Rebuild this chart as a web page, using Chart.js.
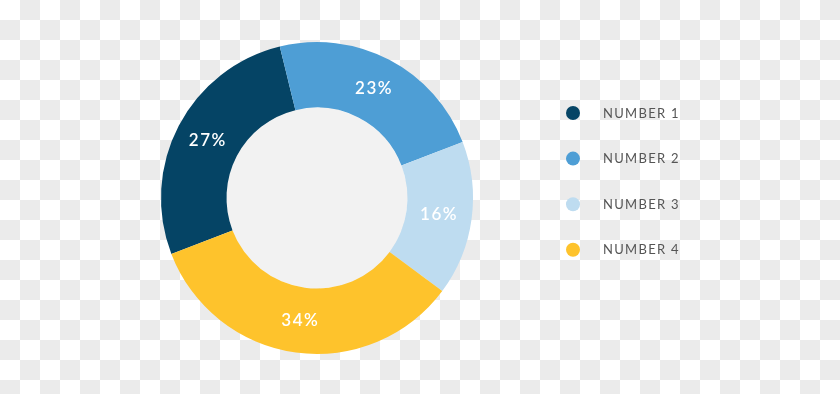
<!DOCTYPE html>
<html>
<head>
<meta charset="utf-8">
<script src="https://cdn.jsdelivr.net/npm/chart.js@4/dist/chart.umd.min.js"></script>
<style>
  html, body {
    margin: 0;
    padding: 0;
    width: 840px;
    height: 394px;
    overflow: hidden;
    background-color: #ffffff;
    background-image: conic-gradient(#ebebeb 25%, transparent 0 50%, #ebebeb 0 75%, transparent 0);
    background-size: 40px 40px;
  }
  #wrap { position: relative; width: 840px; height: 394px; }
</style>
</head>
<body>
<div id="wrap"><canvas id="chart"></canvas></div>
<script>
const labels = ["NUMBER 1", "NUMBER 2", "NUMBER 3", "NUMBER 4"];
const values = [27, 23, 16, 34];
const colors = ["#054465", "#4e9ed5", "#bedcf0", "#fec32c"];

// light grey disc in the hole of the doughnut
const holeFill = {
  id: "holeFill",
  beforeDatasetsDraw(chart) {
    const arc = chart.getDatasetMeta(0).data[0];
    if (!arc) return;
    const ctx = chart.ctx;
    ctx.save();
    ctx.fillStyle = "#f2f2f2";
    ctx.beginPath();
    ctx.arc(arc.x, arc.y, arc.innerRadius, 0, Math.PI * 2);
    ctx.fill();
    ctx.restore();
  }
};

// percent labels in the middle of each ring segment
const sliceLabels = {
  id: "sliceLabels",
  afterDatasetsDraw(chart) {
    const ctx = chart.ctx;
    const meta = chart.getDatasetMeta(0);
    ctx.save();
    ctx.fillStyle = "#ffffff";
    ctx.font = "600 17px Lato";
    ctx.letterSpacing = "1.5px";
    ctx.textAlign = "center";
    ctx.textBaseline = "middle";
    meta.data.forEach((arc, i) => {
      const p = arc.tooltipPosition();
      ctx.fillText(values[i] + "%", p.x, p.y);
    });
    ctx.restore();
  }
};

// legend on the right, letter spaced
const sideLegend = {
  id: "sideLegend",
  afterDraw(chart) {
    const ctx = chart.ctx;
    const x0 = 573, y0 = 113, step = 45.6;
    ctx.save();
    ctx.font = "13px Lato";
    ctx.letterSpacing = "1.3px";
    ctx.textAlign = "left";
    ctx.textBaseline = "middle";
    chart.data.labels.forEach((lab, i) => {
      const y = y0 + i * step;
      ctx.fillStyle = chart.data.datasets[0].backgroundColor[i];
      ctx.beginPath();
      ctx.arc(x0, y, 7, 0, Math.PI * 2);
      ctx.fill();
      ctx.fillStyle = "#555555";
      ctx.fillText(lab, x0 + 30, y + 0.5);
    });
    ctx.restore();
  }
};

new Chart(document.getElementById("chart"), {
  type: "doughnut",
  data: {
    labels: labels,
    datasets: [{
      data: values,
      backgroundColor: colors,
      borderWidth: 0
    }]
  },
  options: {
    responsive: true,
    maintainAspectRatio: false,
    animation: false,
    cutout: "58%",
    rotation: -111,
    layout: { padding: { left: 161, right: 367, top: 42, bottom: 40 } },
    plugins: {
      legend: { display: false },
      tooltip: { enabled: false }
    }
  },
  plugins: [holeFill, sliceLabels, sideLegend]
});
</script>
</body>
</html>
